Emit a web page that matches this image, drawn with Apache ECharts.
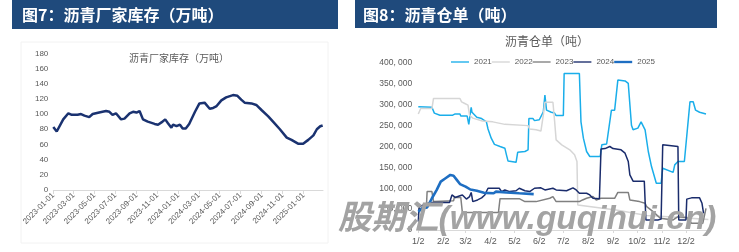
<!DOCTYPE html>
<html><head><meta charset="utf-8">
<script src="https://cdn.jsdelivr.net/npm/echarts@6/dist/echarts.min.js"></script>
<style>html,body{margin:0;padding:0;background:#fff}#c{width:739px;height:252px}</style>
</head><body><div id="c"></div>
<script>
// ---------- Figure 7: asphalt plant inventory (10k tons) ----------
const invDates = ['2023-01-01','2023-01-11','2023-01-30','2023-02-14','2023-02-24','2023-03-13','2023-03-23','2023-04-02','2023-04-16','2023-04-26','2023-05-15','2023-06-04','2023-06-14','2023-06-23','2023-07-03','2023-07-18','2023-07-28','2023-08-12','2023-08-22','2023-09-01','2023-09-10','2023-09-20','2023-10-04','2023-10-24','2023-11-03','2023-11-13','2023-11-18','2023-11-24','2023-12-02','2023-12-12','2023-12-17','2023-12-27','2024-01-06','2024-01-14','2024-01-23','2024-02-02','2024-02-19','2024-03-03','2024-03-18','2024-03-23','2024-04-02','2024-04-12','2024-04-21','2024-04-25','2024-05-06','2024-05-20','2024-06-09','2024-06-22','2024-07-03','2024-07-13','2024-08-02','2024-08-16','2024-09-01','2024-09-20','2024-10-04','2024-10-24','2024-11-13','2024-11-27','2024-12-16','2024-12-31','2025-01-15','2025-01-30','2025-02-09','2025-02-19','2025-02-26'];
const invValues = [83,77,93,101,99,99,100,98,96,100,102,104,103,99,101,93,94,101,103,102,104,93,90,87,86,89,88,93,88,82,86,84,86,81,81,87,103,114,115,114,107,108,110,111,118,122,125,124,119,115,114,112,105,97,90,80,69,66,61,61,66,72,80,84,85];
const invTickLabels = ['2023-01-01','2023-03-01','2023-05-01','2023-07-01','2023-09-01','2023-11-01','2024-01-01','2024-03-01','2024-05-01','2024-07-01','2024-09-01','2024-11-01','2025-01-01'];

// ---------- Figure 8: asphalt warehouse receipts (tons) ----------
const wrTickLabels = ['1/2','2/2','3/2','4/2','5/2','6/2','7/2','8/2','9/2','10/2','11/2','12/2'];
const wrYears = ['2021','2022','2023','2024','2025'];
const wr2021 = [['1/2',295000],['1/19',294000],['1/22',280000],['1/29',275000],['2/14',275000],['2/17',278000],['2/23',278000],['2/24',273000],['3/4',273000],['3/6',253000],['3/7',253000],['3/9',294000],['3/10',282000],['3/16',270000],['3/22',267000],['3/28',259000],['3/30',242000],['4/3',220000],['4/7',205000],['4/14',200000],['4/20',196000],['4/22',180000],['4/24',165000],['5/4',162000],['5/6',186000],['5/15',188000],['5/19',192000],['5/20',267000],['5/25',267000],['5/27',262000],['6/2',264000],['6/7',283000],['6/9',323000],['6/11',287000],['6/17',282000],['6/21',280000],['6/23',274000],['7/2',274000],['7/3',375000],['7/22',375000],['7/24',259000],['7/27',220000],['7/31',188000],['8/4',176000],['8/17',176000],['8/19',204000],['8/25',206000],['8/31',287000],['9/4',287000],['9/8',359000],['9/17',357000],['9/21',351000],['9/25',251000],['9/27',240000],['10/3',244000],['10/7',259000],['10/12',240000],['10/16',188000],['10/20',152000],['10/26',112000],['11/1',112000],['11/3',148000],['11/16',138000],['11/18',156000],['11/22',164000],['11/30',164000],['12/7',307000],['12/11',307000],['12/14',287000],['12/19',282000],['12/27',278000]];
const wr2022 = [['1/2',278000],['1/5',291000],['1/19',291000],['1/21',315000],['2/23',315000],['2/25',307000],['3/1',303000],['3/5',299000],['3/7',275000],['3/11',268000],['3/23',261000],['4/5',259000],['4/20',253000],['4/22',250000],['5/19',250000],['5/21',242000],['5/29',240000],['6/4',237000],['6/7',275000],['6/9',306000],['6/19',306000],['6/21',263000],['6/23',216000],['6/30',204000],['7/10',192000],['7/16',180000],['7/19',164000],['7/20',60000],['8/20',52000],['9/6',48000],['10/14',35000],['11/10',32000],['12/30',25000]];
const wr2023 = [['1/2',52000],['1/12',52000],['1/13',92000],['1/19',92000],['1/21',68000],['2/15',70000],['2/16',78000],['2/24',78000],['2/26',42000],['4/12',42000],['4/14',75000],['5/8',75000],['5/15',68000],['5/29',68000],['5/31',72000],['6/15',76000],['6/19',80000],['6/23',68000],['7/22',68000],['7/26',72000],['7/31',76000],['8/8',80000],['8/12',72000],['8/18',76000],['9/4',76000],['9/8',90000],['9/21',90000],['9/23',72000],['10/5',68000],['10/12',64000],['10/14',56000],['10/22',44000],['10/31',28000],['11/16',24000],['11/22',32000],['12/3',30000],['12/9',16000],['12/23',16000],['12/27',52000]];
const wr2024 = [['1/2',20000],['1/3',56000],['1/10',61000],['1/17',66000],['2/10',66000],['2/13',84000],['2/17',78000],['2/23',82000],['2/26',84000],['3/3',74000],['3/7',80000],['3/9',90000],['3/11',68000],['3/17',72000],['3/22',77000],['3/26',84000],['3/30',100000],['4/13',100000],['4/16',92000],['4/20',96000],['4/26',92000],['5/4',94000],['5/8',100000],['5/15',94000],['5/21',92000],['5/27',100000],['6/4',101000],['6/9',96000],['6/19',100000],['6/23',96000],['7/6',94000],['7/7',92000],['7/14',101000],['7/18',96000],['7/22',88000],['7/31',88000],['8/4',84000],['8/8',76000],['8/16',75000],['8/18',194000],['8/23',195000],['8/29',200000],['9/2',195000],['9/4',193000],['9/12',192000],['9/17',184000],['9/21',164000],['9/23',132000],['9/27',117000],['10/11',117000],['10/13',24000],['10/28',24000],['11/1',26000],['11/3',204000],['11/22',200000],['11/23',24000],['12/2',24000],['12/3',74000],['12/9',77000],['12/19',77000],['12/22',64000],['12/24',40000]];
const wr2025 = [['1/2',44000],['1/7',52000],['1/13',54000],['1/19',76000],['1/25',96000],['1/30',116000],['2/5',124000],['2/11',132000],['2/13',133000],['2/15',130000],['2/19',120000],['2/23',110000],['3/2',104000],['3/8',97000],['3/16',94000],['3/25',89000],['4/6',88000],['4/9',92000],['4/22',90000],['5/8',88000],['5/26',86000]];

// ---------- daily category axes (calendar only) ----------
function dayRange(start, end, fmt) {
  const out = []; const d = new Date(start + 'T00:00:00Z'); const e = new Date(end + 'T00:00:00Z');
  while (d <= e) { out.push(fmt(d)); d.setUTCDate(d.getUTCDate() + 1); }
  return out;
}
const invCategories = dayRange('2023-01-01', '2025-02-27', d => d.toISOString().slice(0, 10));
const wrCategories = dayRange('2021-01-02', '2021-12-31', d => (d.getUTCMonth() + 1) + '/' + d.getUTCDate());

const txt = '#595959';
const axisGray = '#d9d9d9';
const fam = '"Liberation Sans", Arial, "Noto Sans CJK SC", sans-serif';
const cjk = '"Noto Sans CJK SC", sans-serif';
const wrColors = ['#1aaeea', '#d6d6d6', '#808080', '#1a2c6c', '#1e6ec2'];
const wrWidths = [1.5, 1.5, 1.5, 1.5, 2.6];
const wrData = [wr2021, wr2022, wr2023, wr2024, wr2025];

function fmtThousands(v) {
  if (v === 0) return '0';
  return Math.floor(v / 1000) + ', ' + String(v % 1000).padStart(3, '0');
}

const chart = echarts.init(document.getElementById('c'), null, { renderer: 'canvas' });
chart.setOption({
  animation: false,
  backgroundColor: '#fff',
  graphic: [
    { type: 'rect', z: 0, shape: { x: 21, y: 42, width: 307, height: 201 }, style: { fill: '#fff', stroke: '#f2f2f2', lineWidth: 1 } },
    { type: 'rect', z: 1, shape: { x: 12, y: 0, width: 326, height: 29 }, style: { fill: '#1f4a7c' } },
    { type: 'text', z: 2, x: 22, y: 15, style: { text: '图7：沥青厂家库存（万吨）', fill: '#fff', font: 'bold 16px ' + cjk, textVerticalAlign: 'middle' } },
    { type: 'rect', z: 1, shape: { x: 355, y: 0, width: 362, height: 28 }, style: { fill: '#1f4a7c' } },
    { type: 'text', z: 2, x: 363, y: 14.5, style: { text: '图8：沥青仓单（吨）', fill: '#fff', font: 'bold 16px ' + cjk, textVerticalAlign: 'middle' } },
    { type: 'text', z: 2, x: 179, y: 58, style: { text: '沥青厂家库存（万吨）', fill: txt, font: '10px ' + cjk, textAlign: 'center', textVerticalAlign: 'middle' } },
    { type: 'text', z: 2, x: 547, y: 41, style: { text: '沥青仓单（吨）', fill: txt, font: '12px ' + cjk, textAlign: 'center', textVerticalAlign: 'middle' } },
    { type: 'text', z: 100, zlevel: 1, x: 338, y: 220, style: { text: '股期汇(www.guqihui.cn)', fill: '#a3a3a3', font: 'italic bold 33.5px "Liberation Sans", "Noto Sans CJK SC", sans-serif', textVerticalAlign: 'middle' } }
  ],
  legend: {
    data: wrYears.map((y, k) => ({ name: y, icon: 'path://M0,0H20V' + wrWidths[k] + 'H0Z' })),
    left: 446, top: 53, itemWidth: 18, itemHeight: 10, itemGap: 0,
    textStyle: { fontSize: 8, color: txt, fontFamily: fam }
  },
  grid: [
    { left: 53.3, right: 416, top: 53.3, bottom: 62 },
    { left: 418.3, right: 29.8, top: 63, bottom: 22 }
  ],
  xAxis: [
    {
      gridIndex: 0, type: 'category', data: invCategories, boundaryGap: false,
      axisLine: { lineStyle: { color: axisGray } },
      axisTick: { interval: (i, v) => invTickLabels.includes(v), length: 4, lineStyle: { color: axisGray } },
      axisLabel: { interval: (i, v) => invTickLabels.includes(v), rotate: 45, fontSize: 8, color: txt, margin: 4, fontFamily: fam },
      splitLine: { show: false }
    },
    {
      gridIndex: 1, type: 'category', data: wrCategories, boundaryGap: false,
      axisLine: { lineStyle: { color: axisGray } },
      axisTick: { interval: (i, v) => wrTickLabels.includes(v), length: 3, lineStyle: { color: axisGray } },
      axisLabel: { interval: (i, v) => wrTickLabels.includes(v), fontSize: 9, color: txt, margin: 7, fontFamily: fam },
      splitLine: { show: false }
    }
  ],
  yAxis: [
    {
      gridIndex: 0, type: 'value', min: 0, max: 180, interval: 20,
      axisLine: { show: false }, axisTick: { show: false }, splitLine: { show: false },
      axisLabel: { fontSize: 8, color: txt, margin: 5, fontFamily: fam }
    },
    {
      gridIndex: 1, type: 'value', min: 0, max: 400000, interval: 50000,
      axisLine: { show: false }, axisTick: { show: false }, splitLine: { show: false },
      axisLabel: { fontSize: 8.5, color: txt, margin: 6, fontFamily: fam, formatter: fmtThousands }
    }
  ],
  series: [
    {
      name: '沥青厂家库存', type: 'line', xAxisIndex: 0, yAxisIndex: 0, symbol: 'none',
      lineStyle: { color: '#1a3270', width: 2.5 }, itemStyle: { color: '#1a3270' },
      data: invDates.map((d, i) => [d, invValues[i]])
    }
  ].concat(wrYears.map((y, k) => ({
    name: y, type: 'line', xAxisIndex: 1, yAxisIndex: 1, symbol: 'none',
    z: 2 + k,
    lineStyle: { color: wrColors[k], width: wrWidths[k] }, itemStyle: { color: wrColors[k] },
    data: wrData[k]
  })))
});
</script>
</body></html>
